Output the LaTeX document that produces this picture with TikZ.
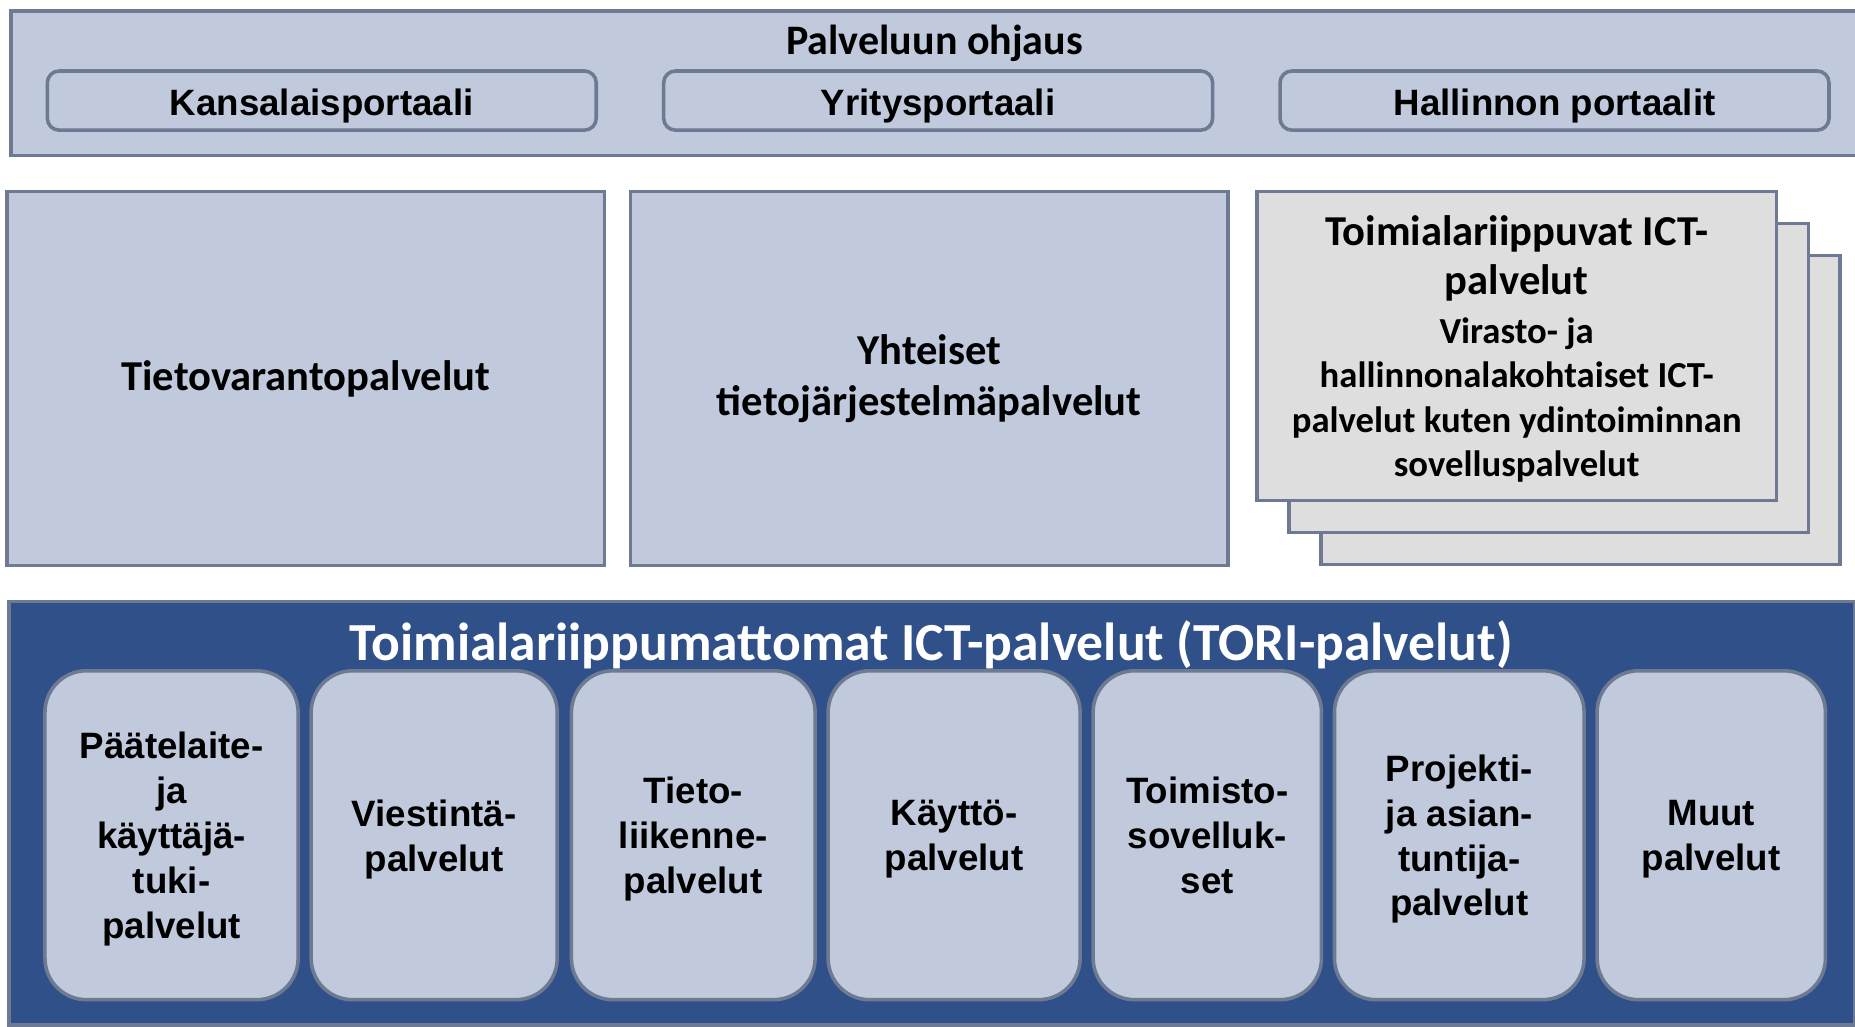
\documentclass[tikz,border=0pt]{standalone}
\usepackage{fontspec}
\setmainfont{Carlito}
\newfontfamily\arialfont{Liberation Sans}
\definecolor{boxfill}{HTML}{C0CADC}
\definecolor{boxline}{HTML}{6E7A91}
\definecolor{torifill}{HTML}{30508A}
\definecolor{sheetfill}{HTML}{DEDEDE}
\tikzstyle{band} = [rectangle, draw=boxline, line width=3pt, inner sep=0pt, anchor=north west]
\tikzstyle{portal} = [rectangle, rounded corners=10pt, minimum width=464pt, minimum height=50pt, draw=boxline, fill=boxfill, line width=3pt, inner sep=0pt, text height=26pt, text depth=0pt, font=\arialfont\bfseries\fontsize{31}{37}\selectfont]
\tikzstyle{mid} = [rectangle, minimum width=505pt, minimum height=316pt, draw=boxline, fill=boxfill, line width=3pt, inner sep=0pt, align=center, font=\bfseries\fontsize{36}{43}\selectfont]
\tikzstyle{sheet} = [rectangle, minimum width=439pt, minimum height=261pt, draw=boxline, fill=sheetfill, line width=3pt, inner sep=0pt, text depth=0pt, align=center, font=\bfseries\fontsize{31}{37.5}\selectfont]
\tikzstyle{tori} = [rectangle, rounded corners=35pt, minimum height=278pt, draw=boxline, fill=boxfill, line width=3pt, inner sep=0pt, text depth=0pt, align=center, font=\arialfont\bfseries\fontsize{31}{38}\selectfont]
\begin{document}
\begin{tikzpicture}[x=1pt, y=-1pt, node distance=521pt]
\useasboundingbox (0,0) rectangle (1568,868);

%% TOP BAND

\node (ohjaus) [band, fill=boxfill, minimum width=1580pt, minimum height=122pt] at (8,8) {};
\node (ohjaus_label) at (790,37) [font=\bfseries\fontsize{35.5}{42}\selectfont] {Palveluun ohjaus};
\node (kansa) [portal] at (272,85) {Kansalaisportaali};
\node (yritys) [portal, right of=kansa] {Yritysportaali};
\node (hallinto) [portal, right of=yritys] {Hallinnon portaalit};

%% MIDDLE ROW

\node (tietovaranto) [mid] at (258.5,320) {Tietovarantopalvelut};
\node (yhteiset) [mid, right of=tietovaranto, node distance=527pt] {Yhteiset\\tietojärjestelmäpalvelut};
\node (sheet3) [sheet] at (1336,346.5) {};
\node (sheet2) [sheet] at (1309,319.5) {};
\node (toimiala) [sheet] at (1282,292.5) {{\fontsize{36}{43}\selectfont Toimialariippuvat ICT-}\\[4pt]{\fontsize{36}{43}\selectfont palvelut}\\[4pt]Virasto- ja\\hallinnonalakohtaiset ICT-\\palvelut kuten ydintoiminnan\\sovelluspalvelut};

%% TORI BAND

\node (tori) [band, fill=torifill, minimum width=1560pt, minimum height=358pt] at (6,507) {};
\node (tori_label) at (787,545) [text=white, font=\bfseries\fontsize{45.3}{54}\selectfont] {Toimialariippumattomat ICT-palvelut (TORI-palvelut)};
\node (paate) [tori, minimum width=214pt] at (145,706) {Päätelaite-\\ja\\käyttäjä-\\tuki-\\palvelut};
\node (viestinta) [tori, minimum width=208pt, right of=paate, node distance=222pt] {Viestintä-\\palvelut};
\node (liikenne) [tori, minimum width=206pt, right of=viestinta, node distance=219pt] {Tieto-\\liikenne-\\palvelut};
\node (kaytto) [tori, minimum width=213pt, right of=liikenne, node distance=220.5pt] {Käyttö-\\palvelut};
\node (toimisto) [tori, minimum width=193pt, right of=kaytto, node distance=214pt] {Toimisto-\\sovelluk-\\set};
\node (projekti) [tori, minimum width=211pt, right of=toimisto, node distance=213pt] {Projekti-\\ja asian-\\tuntija-\\palvelut};
\node (muut) [tori, minimum width=193pt, right of=projekti, node distance=213pt] {Muut\\palvelut};

\end{tikzpicture}
\end{document}
